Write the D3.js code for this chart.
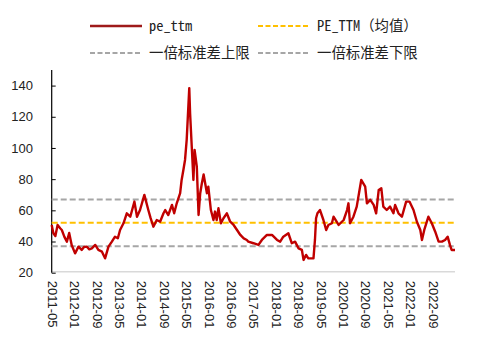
<!DOCTYPE html>
<html>
<head>
<meta charset="utf-8">
<script src="https://cdn.jsdelivr.net/npm/d3@7"></script>
<style>
  html, body { margin: 0; padding: 0; background: #fff; }
  svg { display: block; }
</style>
</head>
<body>
<svg id="chart" width="502" height="347"></svg>
<script>
// PE (TTM) history with mean and ±1 standard deviation bands
const dates = [
  "2011-05-01","2011-05-19","2011-06-10","2011-07-04","2011-08-01","2011-08-19","2011-09-16","2011-10-13",
  "2011-11-07","2011-12-04","2012-01-10","2012-02-16","2012-03-22","2012-04-16","2012-05-16","2012-06-13",
  "2012-07-10","2012-08-16","2012-09-19","2012-10-28","2012-12-01","2013-01-07","2013-02-13","2013-03-19",
  "2013-04-19","2013-05-13","2013-06-19","2013-07-25","2013-09-01","2013-10-16","2013-11-13","2013-12-16",
  "2014-02-01","2014-03-16","2014-04-10","2014-05-10","2014-06-16","2014-07-22","2014-08-28","2014-09-16",
  "2014-10-19","2014-11-28","2014-12-22","2015-01-19","2015-02-25","2015-03-13","2015-04-01","2015-04-19",
  "2015-05-07","2015-05-25","2015-06-04","2015-06-13","2015-07-01","2015-07-19","2015-08-01","2015-08-25",
  "2015-09-13","2015-10-01","2015-10-19","2015-11-07","2015-12-13","2015-12-28","2016-01-25","2016-02-22",
  "2016-03-10","2016-03-28","2016-04-16","2016-05-13","2016-06-10","2016-07-16","2016-08-22","2016-09-28",
  "2016-11-04","2016-12-10","2017-01-16","2017-02-19","2017-03-07","2017-05-01","2017-06-25","2017-08-01",
  "2017-09-25","2017-11-19","2018-01-13","2018-02-16","2018-03-22","2018-05-16","2018-06-22","2018-07-28",
  "2018-09-04","2018-10-10","2018-10-28","2018-11-25","2018-12-19","2019-02-13","2019-03-01","2019-03-13",
  "2019-03-28","2019-04-25","2019-06-01","2019-07-01","2019-07-25","2019-09-01","2019-09-19","2019-11-13",
  "2020-01-07","2020-02-13","2020-02-28","2020-03-16","2020-04-22","2020-05-28","2020-07-16","2020-08-28",
  "2020-09-16","2020-10-22","2020-11-28","2020-12-25","2021-01-22","2021-02-19","2021-03-13","2021-04-19",
  "2021-05-25","2021-07-01","2021-07-19","2021-08-25","2021-10-01","2021-11-16","2021-12-22","2022-02-04",
  "2022-03-13","2022-04-19","2022-05-07","2022-06-01","2022-07-16","2022-08-22","2022-09-28","2022-11-04",
  "2022-12-10","2023-01-13","2023-02-10","2023-03-07","2023-03-25","2023-05-01"
];
const peTtm = [
  50.6,45.3,43.5,50.6,48.5,47.4,43.0,39.9,
  45.5,37.8,32.4,36.7,34.6,36.5,36.7,35.0,
  35.6,37.8,34.6,33.5,29.2,36.7,39.9,43.1,
  42.1,47.4,51.7,58.1,55.9,65.6,55.9,60.2,
  69.9,60.2,55.0,49.5,53.8,52.7,58.1,60.2,
  57.0,63.5,58.1,64.5,71.0,79.5,85.9,92.3,
  105.2,126.5,138.4,122.3,100.9,79.5,98.8,88.0,
  57.0,71.0,77.4,83.0,71.0,75.2,60.2,53.8,
  59.2,53.8,61.3,51.7,54.9,58.1,52.7,50.6,
  47.4,44.2,42.0,41.0,39.9,38.9,37.8,41.0,
  44.2,44.2,41.0,39.9,43.1,45.3,38.9,39.9,
  35.6,34.6,28.2,31.4,29.2,29.2,41.0,54.9,
  58.1,60.2,53.8,47.4,50.6,51.7,55.9,50.6,
  53.8,60.2,64.5,51.7,55.9,62.4,79.5,75.2,
  64.5,66.7,63.5,58.1,73.1,74.2,62.4,60.2,
  62.4,58.1,63.5,58.1,55.9,65.6,65.6,60.2,
  52.7,47.4,41.0,47.4,55.9,51.7,46.3,39.9,
  39.9,41.0,43.1,37.8,34.6,34.6
];
const meanValue = [52.0];
const upperBand = [67.0];
const lowerBand = [37.0];
const xTickLabels = ["2011-05","2012-01","2012-09","2013-05","2014-01","2014-09","2015-05","2016-01","2016-09",
  "2017-05","2018-01","2018-09","2019-05","2020-01","2020-09","2021-05","2022-01","2022-09"];
const yTicks = [20, 40, 60, 80, 100, 120, 140];
const legendNames = ["pe_ttm", "PE_TTM（均值）", "一倍标准差上限", "一倍标准差下限"];

(function draw() {
  const parse = d3.timeParse("%Y-%m-%d");
  const parseMonth = d3.timeParse("%Y-%m");
  const series = dates.map((d, i) => ({ date: parse(d), value: peTtm[i] }));

  const svg = d3.select("#chart");
  const plotLeft = 51.7, plotRight = 455, plotTop = 70, plotBottom = 272.7;

  const x = d3.scaleTime()
    .domain([parse("2011-05-01"), parse("2023-05-01")])
    .range([plotLeft, plotRight]);
  const y = d3.scaleLinear().domain([20, 150]).range([plotBottom, plotTop]);

  // x axis baseline
  svg.append("line")
    .attr("x1", plotLeft).attr("x2", plotRight)
    .attr("y1", plotBottom - 1).attr("y2", plotBottom - 1)
    .attr("stroke", "#d9d9d9").attr("stroke-width", 1.5);

  // x tick labels, rotated
  const xAxis = d3.axisBottom(x)
    .tickValues(xTickLabels.map(parseMonth))
    .tickFormat(d3.timeFormat("%Y-%m"))
    .tickSize(0);
  const gx = svg.append("g").attr("transform", `translate(0,${plotBottom + 8})`).call(xAxis);
  gx.select(".domain").remove();
  gx.selectAll("text")
    .attr("transform", "rotate(90)")
    .attr("x", 0).attr("y", 0).attr("dy", "0.35em")
    .attr("text-anchor", "start")
    .attr("font-family", "'Liberation Sans', Arial, sans-serif")
    .attr("font-size", 13)
    .attr("fill", "#222");

  // y axis with inward ticks
  const yAxis = d3.axisRight(y).tickValues(yTicks).tickSize(4).tickFormat("");
  const gy = svg.append("g").attr("transform", `translate(${plotLeft},0)`).call(yAxis);
  gy.select(".domain").attr("d", `M0,${plotTop}V${plotBottom}`).attr("stroke", "#000").attr("stroke-width", 1.2);
  gy.selectAll(".tick line").attr("stroke", "#000");
  svg.append("g").selectAll("text").data(yTicks).join("text")
    .attr("x", 33).attr("y", d => y(d)).attr("dy", "0.35em")
    .attr("text-anchor", "end")
    .attr("font-family", "'Liberation Sans', Arial, sans-serif")
    .attr("font-size", 13).attr("fill", "#222")
    .text(d => d);

  // horizontal reference lines
  const refs = [
    { v: upperBand[0], color: "#a6a6a6" },
    { v: lowerBand[0], color: "#a6a6a6" },
    { v: meanValue[0], color: "#ffc000" }
  ];
  svg.append("g").selectAll("line").data(refs).join("line")
    .attr("x1", plotLeft).attr("x2", plotRight)
    .attr("y1", d => y(d.v)).attr("y2", d => y(d.v))
    .attr("stroke", d => d.color).attr("stroke-width", 2)
    .attr("stroke-dasharray", "6,3");

  // pe_ttm series
  const line = d3.line().x(d => x(d.date)).y(d => y(d.value));
  svg.append("path").datum(series)
    .attr("d", line)
    .attr("fill", "none")
    .attr("stroke", "#c00000")
    .attr("stroke-width", 2.4)
    .attr("stroke-linejoin", "round");

  // legend
  const legendFont = "'Noto Sans Mono CJK SC', 'DejaVu Sans Mono', 'Noto Sans CJK SC', monospace";
  const legendItems = [
    { name: legendNames[0], x: 90, y: 26, color: "#9e1a1a", dash: null },
    { name: legendNames[1], x: 258, y: 26, color: "#ffc000", dash: "5,2.5" },
    { name: legendNames[2], x: 90, y: 53, color: "#a6a6a6", dash: "5,2.5" },
    { name: legendNames[3], x: 258, y: 53, color: "#a6a6a6", dash: "5,2.5" }
  ];
  const lg = svg.append("g").selectAll("g").data(legendItems).join("g")
    .attr("transform", d => `translate(${d.x},${d.y})`);
  lg.append("line")
    .attr("x1", 0).attr("x2", 52).attr("y1", 0).attr("y2", 0)
    .attr("stroke", d => d.color)
    .attr("stroke-width", d => d.dash ? 2 : 2.5)
    .attr("stroke-dasharray", d => d.dash);
  lg.append("text")
    .attr("x", 59).attr("y", 0).attr("dy", "0.35em")
    .attr("font-family", legendFont)
    .attr("font-size", 14.4)
    .attr("fill", "#222")
    .text(d => d.name);
})();
</script>
</body>
</html>
